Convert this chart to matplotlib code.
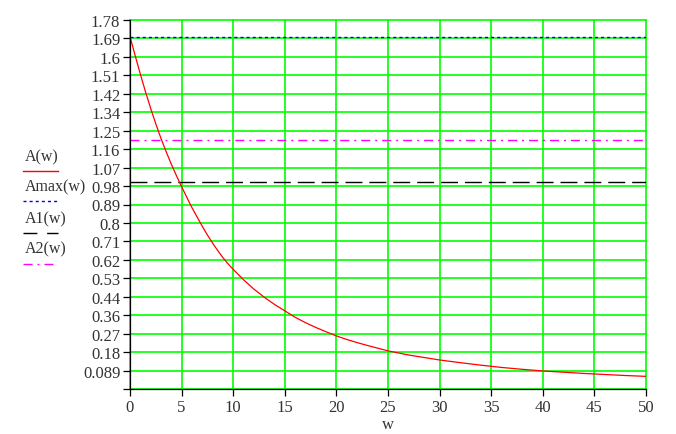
import matplotlib
matplotlib.use("Agg")
import matplotlib.pyplot as plt
from matplotlib.lines import Line2D

plt.rcParams['font.family'] = ['Liberation Serif', 'DejaVu Serif']
plt.rcParams['lines.scale_dashes'] = False

# values
w = [0, 0.5, 1, 1.5, 2, 2.5, 3, 3.5, 4, 4.5, 5, 5.5, 6, 6.5, 7, 7.5, 8,
     8.5, 9, 9.5, 10, 11, 12, 13, 14, 15, 16, 17, 18, 19, 20, 21, 22, 23,
     24, 25, 26, 27, 28, 29, 30, 32, 34, 36, 38, 40, 42, 44, 46, 48, 50]
A = [1.70, 1.608, 1.519, 1.434, 1.354, 1.279, 1.209, 1.145, 1.085, 1.029,
     0.976, 0.925, 0.875, 0.83, 0.785, 0.743, 0.704, 0.668, 0.634, 0.604,
     0.577, 0.527, 0.482, 0.443, 0.408, 0.377, 0.346, 0.320, 0.297, 0.276,
     0.256, 0.239, 0.224, 0.210, 0.197, 0.184, 0.174, 0.164, 0.156, 0.148,
     0.140, 0.127, 0.115, 0.104, 0.095, 0.087, 0.081, 0.075, 0.070, 0.065,
     0.061]
Amax = 1.7
A1 = 1.0
A2 = 1.2

x_ticks = list(range(0, 51, 5))
y_step = 0.089
y_labels = ["", "0.089", "0.18", "0.27", "0.36", "0.44", "0.53", "0.62",
            "0.71", "0.8", "0.89", "0.98", "1.07", "1.16", "1.25", "1.34",
            "1.42", "1.51", "1.6", "1.69", "1.78"]

W, H = 676, 435
fig = plt.figure(figsize=(W / 100, H / 100), dpi=100)
ax = fig.add_axes([130 / W, 45 / H, 516 / W, 369 / H])

ax.plot(w, [Amax] * len(w), color='#0000ff', lw=1, dashes=(2.2, 2.2))
ax.plot(w, [A1] * len(w), color='black', lw=1, dashes=(12.2, 5))
ax.plot(w, [A2] * len(w), color='#ff00ff', lw=1, dashes=(6.5, 3.6, 1.4, 3.6))
ax.plot(w, A, color='#ff0000', lw=0.9)

ax.set_xlim(0, 50)
ax.set_ylim(0, 1.78)
ax.set_xticks(x_ticks)
ax.set_yticks([i * y_step for i in range(len(y_labels))])
ax.set_yticklabels(y_labels)

ax.grid(True, color='#00ff00', lw=1.2)
ax.set_axisbelow(True)
for gl in ax.get_xgridlines() + ax.get_ygridlines():
    gl.set_clip_on(False)

for s in ['top', 'right']:
    ax.spines[s].set_visible(False)
for s in ['left', 'bottom']:
    ax.spines[s].set_color('black')
    ax.spines[s].set_linewidth(0.9)

ax.tick_params(direction='out', length=5, width=0.9, colors='black',
               labelsize=12, pad=2, labelcolor='#333333')
# x axis name, placed under the tick labels
fig.text(388 / W, 1 - 425 / H, 'w', fontsize=12, ha='center', va='center',
         color='#333333')

# legend on the left (Mathcad style: name above line sample)
leg = [("A(w)", 157, 172, '#ff0000', None),
       ("Amax(w)", 187, 202, '#0000ff', (2.2, 2.2)),
       ("A1(w)", 219, 234, 'black', (10, 7)),
       ("A2(w)", 249, 265, '#ff00ff', (6.5, 3.6, 1.4, 3.6))]
for name, ty, ly, col, dsh in leg:
    fig.text(25 / W, 1 - ty / H, name, fontsize=11.5, va='center', ha='left',
             color='#333333')
    ln = Line2D([23 / W, 58 / W], [1 - ly / H, 1 - ly / H], color=col, lw=1,
                transform=fig.transFigure)
    if dsh:
        ln.set_dashes(dsh)
    fig.add_artist(ln)

fig.savefig('out.png', dpi=100)
